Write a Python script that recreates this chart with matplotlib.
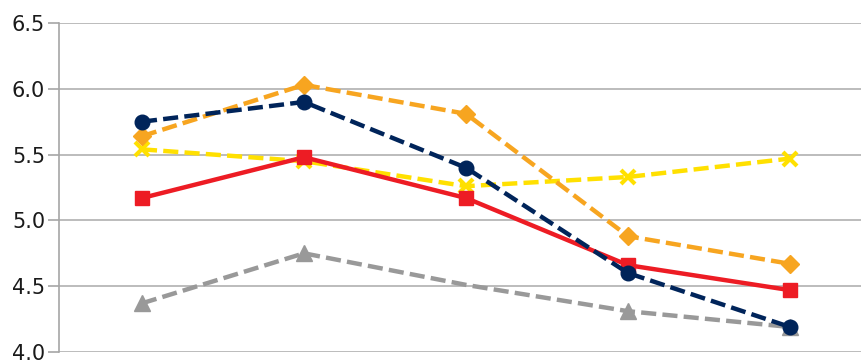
import matplotlib.pyplot as plt

categories = ['1', '2', '3', '4', '5']
navy = [5.75, 5.90, 5.40, 4.60, 4.19]
orange = [5.64, 6.03, 5.81, 4.88, 4.67]
yellow = [5.54, 5.45, 5.26, 5.33, 5.47]
red = [5.17, 5.48, 5.17, 4.66, 4.47]
gray = [4.37, 4.75, 4.51, 4.31, 4.19]
y_ticks = [4.0, 4.5, 5.0, 5.5, 6.0, 6.5]

fig = plt.figure(figsize=(8.61, 3.61), dpi=100)
ax = fig.add_axes([59 / 861, 9 / 361, 1 - 59 / 861, (352 - 23) / 361])

x = list(range(len(categories)))
lw = 3.2
dash = (0, (3.4, 1.4))
ax.plot(x, gray, color='#999999', lw=lw, ls=dash, marker='^', ms=11,
        markevery=[0, 1, 3, 4], zorder=3)
ax.plot(x, red, color='#ED1C24', lw=lw, ls='-', marker='s', ms=9.5, zorder=4)
ax.plot(x, yellow, color='#FFE000', lw=lw, ls=dash, marker='x', ms=10,
        mew=3, zorder=3)
ax.plot(x, orange, color='#F7A520', lw=lw, ls=dash, marker='D', ms=9.5,
        zorder=3)
ax.plot(x, navy, color='#00245A', lw=lw, ls=dash, marker='o', ms=10.5,
        zorder=5)

ax.set_xlim(-0.512, 4.438)
ax.set_ylim(4.0, 6.5)
ax.set_yticks(y_ticks)
ax.set_yticklabels([f'{v:.1f}' for v in y_ticks])
ax.set_xticks([])
ax.grid(axis='y', color='#b0b0b0', lw=1.2)
ax.set_axisbelow(True)
for s in ['top', 'right', 'bottom']:
    ax.spines[s].set_visible(False)
ax.spines['left'].set_color('#a6a6a6')
ax.spines['left'].set_linewidth(1.2)
ax.tick_params(axis='y', length=8, width=1.2, color='#a6a6a6',
               labelsize=15, labelcolor='#1a1a1a', pad=2)
for lab in ax.get_yticklabels():
    lab.set_family('DejaVu Sans')

fig.savefig('out.png', dpi=100)
